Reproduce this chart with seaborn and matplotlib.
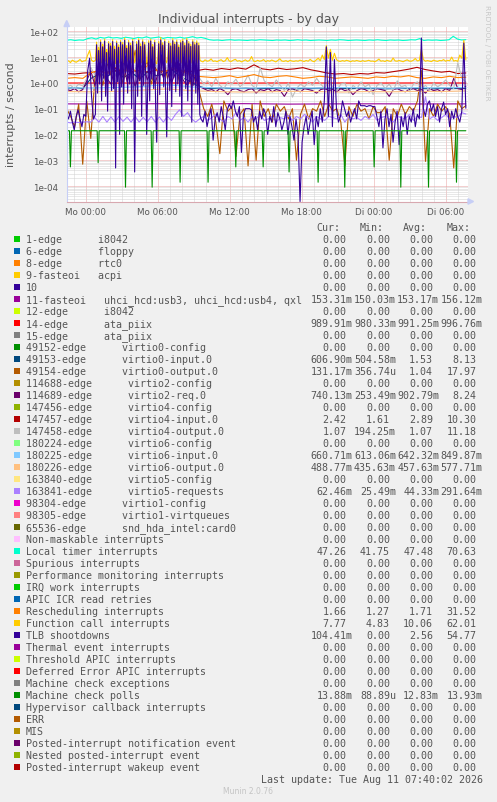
import numpy as np
import pandas as pd
import matplotlib
matplotlib.use("Agg")
import matplotlib.pyplot as plt
import matplotlib.ticker as mticker
from matplotlib.patches import Rectangle, Polygon
import seaborn as sns

W, H = 497, 803

# hours relative to "Mo 00:00", graph runs up to the last update (Di 07:40)
T_START = -1.6
T_END = 31.67
# busy period on Monday morning, sampled finer (5 min) for TLB / function call
PRE = (T_START, 0.8)
BURST = (0.9, 9.5)
POST = (9.6, T_END)
TICK_HOURS = [0, 6, 12, 18, 24, 30]
TICK_LABELS = ["Mo 00:00", "Mo 06:00", "Mo 12:00", "Mo 18:00", "Di 00:00", "Di 06:00"]

# Munin colour cycle (applied in legend order)
MUNIN_COLORS = [
    "#00CC00", "#0066B3", "#FF8000", "#FFCC00", "#330099", "#990099", "#CCFF00",
    "#FF0000", "#808080", "#008F00", "#00487D", "#B35A00", "#B38F00", "#6B006B",
    "#8FB300", "#B30000", "#BEBEBE", "#80FF80", "#80C9FF", "#FFC080", "#FFE680",
    "#AA80FF", "#EE00CC", "#FF8080", "#666600", "#FFBFFF", "#00FFCC", "#CC6699",
    "#999900",
]

LABELS = [
    "1-edge      i8042",
    "6-edge      floppy",
    "8-edge      rtc0",
    "9-fasteoi   acpi",
    "10",
    "11-fasteoi   uhci_hcd:usb3, uhci_hcd:usb4, qxl",
    "12-edge      i8042",
    "14-edge      ata_piix",
    "15-edge      ata_piix",
    "49152-edge      virtio0-config",
    "49153-edge      virtio0-input.0",
    "49154-edge      virtio0-output.0",
    "114688-edge      virtio2-config",
    "114689-edge      virtio2-req.0",
    "147456-edge      virtio4-config",
    "147457-edge      virtio4-input.0",
    "147458-edge      virtio4-output.0",
    "180224-edge      virtio6-config",
    "180225-edge      virtio6-input.0",
    "180226-edge      virtio6-output.0",
    "163840-edge      virtio5-config",
    "163841-edge      virtio5-requests",
    "98304-edge      virtio1-config",
    "98305-edge      virtio1-virtqueues",
    "65536-edge      snd_hda_intel:card0",
    "Non-maskable interrupts",
    "Local timer interrupts",
    "Spurious interrupts",
    "Performance monitoring interrupts",
    "IRQ work interrupts",
    "APIC ICR read retries",
    "Rescheduling interrupts",
    "Function call interrupts",
    "TLB shootdowns",
    "Thermal event interrupts",
    "Threshold APIC interrupts",
    "Deferred Error APIC interrupts",
    "Machine check exceptions",
    "Machine check polls",
    "Hypervisor callback interrupts",
    "ERR",
    "MIS",
    "Posted-interrupt notification event",
    "Nested posted-interrupt event",
    "Posted-interrupt wakeup event",
]

COLUMNS = ["Cur:", "Min:", "Avg:", "Max:"]
CUR = ["0.00", "0.00", "0.00", "0.00", "0.00", "153.31m", "0.00", "989.91m", "0.00", "0.00",
       "606.90m", "131.17m", "0.00", "740.13m", "0.00", "2.42", "1.07", "0.00", "660.71m", "488.77m",
       "0.00", "62.46m", "0.00", "0.00", "0.00", "0.00", "47.26", "0.00", "0.00", "0.00",
       "0.00", "1.66", "7.77", "104.41m", "0.00", "0.00", "0.00", "0.00", "13.88m", "0.00",
       "0.00", "0.00", "0.00", "0.00", "0.00"]
MIN = ["0.00", "0.00", "0.00", "0.00", "0.00", "150.03m", "0.00", "980.33m", "0.00", "0.00",
       "504.58m", "356.74u", "0.00", "253.49m", "0.00", "1.61", "194.25m", "0.00", "613.06m", "435.63m",
       "0.00", "25.49m", "0.00", "0.00", "0.00", "0.00", "41.75", "0.00", "0.00", "0.00",
       "0.00", "1.27", "4.83", "0.00", "0.00", "0.00", "0.00", "0.00", "88.89u", "0.00",
       "0.00", "0.00", "0.00", "0.00", "0.00"]
AVG = ["0.00", "0.00", "0.00", "0.00", "0.00", "153.17m", "0.00", "991.25m", "0.00", "0.00",
       "1.53", "1.04", "0.00", "902.79m", "0.00", "2.89", "1.07", "0.00", "642.32m", "457.63m",
       "0.00", "44.33m", "0.00", "0.00", "0.00", "0.00", "47.48", "0.00", "0.00", "0.00",
       "0.00", "1.71", "10.06", "2.56", "0.00", "0.00", "0.00", "0.00", "12.83m", "0.00",
       "0.00", "0.00", "0.00", "0.00", "0.00"]
MAX = ["0.00", "0.00", "0.00", "0.00", "0.00", "156.12m", "0.00", "996.76m", "0.00", "0.00",
       "8.13", "17.97", "0.00", "8.24", "0.00", "10.30", "11.18", "0.00", "849.87m", "577.71m",
       "0.00", "291.64m", "0.00", "0.00", "0.00", "0.00", "70.63", "0.00", "0.00", "0.00",
       "0.00", "31.52", "62.01", "54.77", "0.00", "0.00", "0.00", "0.00", "13.93m", "0.00",
       "0.00", "0.00", "0.00", "0.00", "0.00"]

# ---- series (interrupts / second), evenly spaced in time ----
fasteoi_11 = [0.153, 0.151, 0.155, 0.152, 0.156, 0.150, 0.153, 0.154, 0.152, 0.153]
edge_14 = [0.99, 0.985, 0.995, 0.99, 0.982, 0.996, 0.99, 0.988, 0.993, 0.99]

virtio0_in = [0.62, 0.65, 0.6, 1.5, 2.2, 1.8, 3.0, 1.6, 2.5, 1.4, 2.8, 1.9, 2.2, 3.1, 1.7, 1.2,
              0.8, 0.62, 0.6, 0.63, 0.61, 0.6, 0.62, 0.59, 0.61, 0.6, 0.63, 0.6, 0.58, 0.61,
              0.6, 0.62, 0.6, 0.59, 0.61, 0.6, 0.62, 0.6, 0.61, 0.59, 0.6, 0.62, 0.6, 0.61,
              0.6, 0.59, 0.62, 0.6, 0.61, 0.607]

virtio0_out = [0.1, 0.05, 0.02, 0.15, 0.0007, 0.2, 0.007,
               1.5, 4, 0.8, 6, 2, 12, 3, 1, 5, 2.5, 18, 1.2, 3, 7, 0.9, 4, 2, 9, 1.5, 3.5,
               6, 1, 2.5, 5, 0.7, 2, 0.4,
               0.1, 0.05, 0.15, 0.03, 0.0018, 0.2, 0.08, 0.12, 0.0014, 0.06, 0.1, 0.0006,
               0.15, 0.001, 0.2, 0.05, 0.1, 0.03, 0.15, 0.08, 0.12, 0.04, 0.1, 0.001, 0.06,
               0.15, 0.04, 0.1, 0.08, 0.2, 0.05, 0.15, 0.08, 0.1, 0.03, 0.0006, 0.12, 0.05,
               0.15, 0.08, 0.1, 0.04, 0.12, 0.07, 0.07, 0.12, 0.001, 0.1, 0.05, 0.15, 0.06,
               0.12, 0.08, 0.2, 3, 0.0009, 0.1, 0.05, 0.15, 0.08, 0.12, 0.06, 0.0005, 0.2,
               0.1, 0.13]

virtio2_req = [0.55, 0.5, 0.6, 0.45, 0.55,
               1.2, 3, 0.8, 2.5, 5, 1.5, 0.9, 4, 2, 8, 1.1, 3.5, 0.7, 2.2, 6, 1.3, 2.8, 0.9,
               4.5, 1.6, 3, 1, 2.4, 5.5, 1.2, 0.8, 2, 1.5, 0.7,
               0.6, 0.5, 0.55, 0.45, 0.6, 0.5, 0.35, 0.55, 0.6, 0.5, 0.45, 0.55, 0.6, 0.4,
               0.55, 0.5, 0.6, 0.45, 0.55, 0.5, 0.3, 0.55, 0.6, 0.5, 0.45, 0.6, 0.55, 0.5,
               0.4, 0.55, 0.6, 0.5, 0.55, 0.45, 0.6, 0.5, 0.55, 0.35, 0.5, 0.6, 0.55, 0.45,
               0.5, 0.6, 0.55, 0.5, 0.3, 0.55, 0.6, 0.5, 0.45, 0.55, 0.6, 0.5, 0.55, 0.4,
               0.6, 0.5, 0.55, 0.45, 0.6, 0.5, 1.5, 0.6, 0.55, 0.74]

virtio4_in = [2.3, 2.2, 2.4, 2.5, 2.8, 2.6, 2.9, 3.2, 2.7, 3.0, 2.6, 3.1, 2.8, 3.3, 2.9, 2.7,
              3.0, 3.4, 3.1, 3.6, 3.3, 3.8, 3.4, 5.0, 3.5, 3.2, 3.7, 3.3, 3.5, 3.9, 3.2, 2.8,
              2.4, 2.2, 2.3, 2.1, 2.3, 2.2, 2.5, 2.4, 2.7, 3.0, 3.4, 4.0, 3.3, 2.9, 2.6, 2.8,
              2.3, 2.42]

virtio4_out = [0.7, 0.8, 0.6, 0.9, 0.75,
               1.5, 4, 2, 6, 1.2, 8, 3, 1.8, 5, 2.5, 11, 1.5, 3.5, 7, 2, 4.5, 1.3, 6, 2.2, 9,
               3, 1.6, 5, 2.8, 1.4, 7, 2, 3.5, 1.5,
               0.9, 1.2, 0.7, 1.5, 0.8, 0.6, 1.1, 0.9, 1.4, 0.7, 1.0, 2.0, 0.8, 0.6, 4.0,
               1.2, 0.9, 0.7, 1.3, 0.8, 0.5, 1.0, 0.28, 0.6, 0.9, 0.7, 1.1, 0.8, 1.5, 0.9,
               0.6, 1.2, 0.7, 0.5, 0.9, 1.0, 0.4, 0.8, 0.6, 1.1, 0.7, 0.9, 0.35, 0.8, 1.0,
               0.6, 0.9, 0.5, 1.2, 0.7, 0.8, 0.45, 0.9, 1.1, 0.6, 0.8, 0.5, 1.0, 0.7, 0.9,
               1.3, 0.8, 0.6, 6.0, 1.5, 1.07]

virtio6_in = [0.64, 0.63, 0.66, 0.72, 0.85, 0.7, 0.64, 0.62, 0.65, 0.64, 0.63, 0.66, 0.64,
              0.62, 0.65, 0.64, 0.66]
virtio6_out = [0.46, 0.45, 0.47, 0.52, 0.58, 0.5, 0.46, 0.44, 0.45, 0.47, 0.46, 0.44, 0.46,
               0.45, 0.47, 0.46, 0.49]

virtio5_req = [0.03, 0.028, 0.03, 0.029, 0.03, 0.031, 0.03, 0.045, 0.03, 0.05, 0.03, 0.048,
               0.03, 0.05, 0.032, 0.047, 0.03, 0.05, 0.03, 0.046, 0.031, 0.05, 0.03, 0.048,
               0.03, 0.05, 0.035, 0.06, 0.09, 0.05, 0.07, 0.04, 0.03, 0.04, 0.05, 0.035,
               0.045, 0.06, 0.04, 0.03, 0.05, 0.04, 0.07, 0.035, 0.045, 0.03, 0.05, 0.04,
               0.06, 0.035, 0.04, 0.05, 0.03, 0.045, 0.04, 0.055, 0.035, 0.05, 0.04, 0.06,
               0.045, 0.03, 0.05, 0.04, 0.035, 0.05, 0.045, 0.04, 0.06, 0.03, 0.05, 0.04,
               0.045, 0.035, 0.05, 0.04, 0.06, 0.035, 0.045, 0.05, 0.04, 0.03, 0.05, 0.045,
               0.04, 0.06, 0.035, 0.05, 0.045, 0.29, 0.04, 0.05, 0.035, 0.045, 0.06, 0.04,
               0.05, 0.045, 0.07, 0.062]

local_timer = [45, 47, 44, 46, 45,
               52, 56, 50, 58, 54, 60, 55, 57, 53, 59, 56, 52, 58, 55, 61, 54, 57, 60, 53,
               58, 56, 55, 59, 54, 57, 62, 55, 58, 53,
               47, 45, 46, 44, 46, 47, 45, 46, 45, 44, 46, 45, 47, 46, 45, 44, 46, 45, 46,
               44, 45, 47, 45, 46, 44, 45, 46, 45, 44, 46, 45, 47, 46, 44, 45, 46, 45, 44,
               46, 45, 47, 45, 44, 46, 45, 46, 44, 45, 47, 46, 52, 44, 46, 45, 46, 44, 45,
               47, 64, 50, 46, 47.3]

resched = [1.5, 1.6, 1.5, 2.5, 3.0, 2.2, 4.0, 2.8, 3.5, 2.4, 5.0, 3.1, 2.6, 3.8, 2.9, 2.2,
           1.8, 1.7, 1.6, 1.7, 1.9, 1.6, 1.8, 2.1, 1.7, 1.6, 1.8, 1.9, 1.7, 1.5, 1.6, 1.8,
           1.7, 1.5, 1.6, 1.7, 1.6, 1.5, 1.7, 1.6, 1.8, 1.7, 1.9, 1.6, 1.5, 1.7, 1.6, 1.8,
           1.6, 1.66]

# function call interrupts: before / during / after the busy period
func_call_pre = [6.5, 7.2, 6.1, 7.6, 6.8, 6.3, 7.0, 8.1, 6.6, 7.1, 7.3, 12, 18, 7.5, 6.7, 7.4]
func_call_burst = [38, 7, 24, 8, 46, 6, 32, 10, 50, 7, 20, 6, 40, 12, 34, 8,
                   48, 7, 26, 5.5, 42, 9, 30, 6, 45, 8, 37, 6, 55, 14, 28, 7,
                   44, 9, 35, 6, 50, 11, 6, 8, 40, 7, 52, 10, 33, 6, 47, 9,
                   37, 13, 6, 7, 43, 6, 50, 10, 31, 8, 45, 6, 5.5, 9, 40, 7,
                   58, 15, 36, 8, 48, 7, 6, 10, 42, 7, 34, 6, 52, 11, 38, 8,
                   46, 9, 30, 7, 44, 6, 50, 12, 35, 8, 54, 6, 40, 10, 32, 6,
                   47, 9, 37, 7, 43, 6, 35, 8]
func_call_post = [7.0, 6.5, 7.8, 6.9, 7.2, 8.5, 6.8, 7.1, 6.6, 7.4,
                  7.9, 6.7, 7.2, 9.5, 7.0, 6.8, 7.6, 8.2, 6.9, 7.3,
                  6.5, 7.1, 7.8, 6.8, 7.4, 10.5, 7.0, 6.7, 7.5, 6.9,
                  7.2, 8.0, 6.6, 7.3, 6.9, 7.7, 7.1, 6.5, 7.4, 8.6,
                  7.0, 6.8, 7.3, 6.6, 7.5, 7.0, 6.8, 7.2, 6.9, 7.6,
                  7.1, 6.7, 7.4, 6.9, 8.2, 7.0, 6.6, 7.8, 9.0, 7.2, 12, 8,
                  28, 9, 20, 7.5, 14, 8, 7.0, 6.8,
                  7.3, 6.9, 7.5, 7.1, 6.6, 7.2, 6.9, 7.4, 7.0, 6.7,
                  7.3, 6.8, 7.1, 7.5, 6.9, 7.0, 6.6, 7.3, 8.4, 6.9,
                  7.2, 6.7, 7.5, 7.0, 6.8, 9.2, 7.1, 6.9, 7.4, 7.0,
                  6.6, 7.3, 7.8, 7.0, 6.9, 7.5, 8.8, 7.1, 7.4, 20,
                  8.0, 6.9, 7.3, 7.0, 6.7, 7.6, 7.1, 6.8, 7.4, 7.2,
                  8.0, 6.9, 7.5, 7.2, 10, 7.0, 7.4, 6.8, 12, 9, 45, 7.77]

# TLB shootdowns: before / during / after the busy period
tlb_pre = [0.06, 0.04, 0.08, 0.03, 0.015, 0.05, 0.09, 0.04, 0.02, 0.06, 0.05, 3, 9, 0.3, 0.04, 0.06]
tlb_burst = [30, 0.4, 18, 0.9, 38, 0.2, 25, 1.5, 42, 0.3, 15, 0.08, 33, 2.0, 27, 0.5,
             40, 0.6, 20, 0.0005, 35, 1.1, 24, 0.01, 38, 0.7, 30, 0.15, 45, 2.5, 22, 0.4,
             36, 0.9, 28, 0.1, 41, 1.8, 0.00035, 0.6, 32, 0.3, 44, 1.2, 26, 0.05, 39, 0.8,
             30, 2.2, 0.01, 0.5, 35, 0.2, 42, 1.4, 25, 0.6, 37, 0.09, 0.005, 1.0, 33, 0.35,
             46, 2.8, 29, 0.7, 40, 0.25, 0.008, 1.3, 34, 0.5, 27, 0.12, 43, 1.6, 31, 0.45,
             38, 0.9, 24, 0.3, 36, 0.05, 41, 1.9, 28, 0.6, 45, 0.2, 33, 1.1, 26, 0.03,
             39, 0.8, 30, 0.4, 35, 0.15, 28, 0.06]
tlb_post = [0.04, 0.03, 0.08, 0.02, 0.05, 0.1, 0.006, 0.04, 0.07, 0.03,
            0.12, 0.05, 0.015, 0.09, 0.15, 0.1, 0.2, 0.08, 0.05, 0.12,
            0.002, 0.06, 0.1, 0.1, 0.1, 0.09, 0.03, 0.05, 0.015, 0.08,
            0.04, 0.1, 0.06, 0.01, 0.05, 0.03, 0.12, 0.02, 0.07, 0.04,
            0.015, 0.03, 0.08, 0.01, 0.05, 0.02, 0.006, 0.04, 0.01, 2.5e-5,
            0.005, 0.02, 0.05, 0.01, 0.03, 0.08, 0.004, 0.05, 0.02, 0.1,
            0.03, 0.2, 25, 0.05, 15, 0.02, 8, 0.1, 0.03, 0.05,
            0.2, 0.1, 0.05, 0.08, 0.03, 0.06, 0.1, 0.04, 0.2, 0.13,
            0.13, 0.13, 0.12, 0.13, 0.13, 0.12,
            0.12, 0.05, 0.02, 0.08, 0.003, 0.04, 0.1, 0.02, 0.06, 0.005,
            0.03, 0.08, 0.004, 0.05, 0.02, 0.07, 0.01, 0.05, 0.03, 0.1,
            0.02, 0.06, 0.04, 55, 0.1, 0.05, 0.15, 0.2, 0.08, 0.15,
            0.05, 0.12, 0.03, 0.1, 0.18, 0.06, 0.1, 0.02, 0.08, 0.04,
            0.1, 0.05, 0.03, 0.08, 35, 0.104]

# machine check polls: flat level with short single-sample dips
MCE_LEVEL = 0.0139
MCE_DIP_HOURS = [-1.28, 1.03, 3.31, 5.53, 7.86, 10.19, 12.5, 14.78, 16.94, 19.36,
                 21.58, 24.03, 26.25, 28.56, 30.89]
MCE_DIP_VALUES = [5.5e-4, 8e-4, 9e-5, 9e-5, 1.4e-4, 1.4e-4, 5.5e-4, 5.5e-4, 3.5e-4, 1.4e-4,
                  9e-5, 5.5e-4, 9e-5, 9e-5, 1.4e-4]

# legend index -> samples (drawn in legend order, like rrdtool)
SERIES = {
    5: fasteoi_11, 7: edge_14, 10: virtio0_in, 11: virtio0_out, 13: virtio2_req,
    15: virtio4_in, 16: virtio4_out, 18: virtio6_in, 19: virtio6_out, 21: virtio5_req,
    26: local_timer, 31: resched,
}
SEGMENTED = {
    32: (func_call_pre, func_call_burst, func_call_post),
    33: (tlb_pre, tlb_burst, tlb_post),
}

frames = []
for idx, vals in SERIES.items():
    frames.append(pd.DataFrame({
        "hour": np.linspace(T_START, T_END, len(vals)),
        "rate": vals,
        "series": LABELS[idx],
    }))
for idx, parts in SEGMENTED.items():
    hours = np.concatenate([np.linspace(a, b, len(p)) for (a, b), p in zip((PRE, BURST, POST), parts)])
    frames.append(pd.DataFrame({"hour": hours, "rate": np.concatenate(parts), "series": LABELS[idx]}))

mce_t, mce_v = [T_START], [MCE_LEVEL]
for t, v in zip(MCE_DIP_HOURS, MCE_DIP_VALUES):
    mce_t += [t - 1 / 12, t, t + 1 / 12]
    mce_v += [MCE_LEVEL, v, MCE_LEVEL]
mce_t.append(T_END)
mce_v.append(MCE_LEVEL)
frames.append(pd.DataFrame({"hour": mce_t, "rate": mce_v, "series": LABELS[38]}))
df = pd.concat(frames, ignore_index=True)

order = [LABELS[i] for i in sorted(list(SERIES) + list(SEGMENTED) + [38])]
palette = {LABELS[i]: MUNIN_COLORS[i % len(MUNIN_COLORS)] for i in range(len(LABELS))}

TXT = "#555555"
MAJ = "#E8A0A0"
MINC = "#D2D2D2"
AXC = "#C6CEF6"

sns.set_style("white")
plt.rcParams["font.family"] = ["DejaVu Sans"]


def fx(px):
    return px / W


def fy(py):
    return 1 - py / H


fig = plt.figure(figsize=(W / 100, H / 100), dpi=100)
fig.patch.set_facecolor("#F0F0F0")

ax = fig.add_axes([fx(66.7), fy(202.5), fx(468) - fx(66.7), fy(27.5) - fy(202.5)])
ax.set_facecolor("white")
ax.set_yscale("log")

sns.lineplot(data=df, x="hour", y="rate", hue="series", hue_order=order,
             palette=palette, estimator=None, legend=False, linewidth=0.8, ax=ax)

ax.set_xlim(-1.59, 31.85)
ax.set_ylim(2.506e-5, 153.5)
ax.set_xlabel("")
ax.set_ylabel("")

ax.xaxis.set_major_locator(mticker.FixedLocator(TICK_HOURS))
ax.xaxis.set_minor_locator(mticker.MultipleLocator(1))
ax.set_xticklabels(TICK_LABELS)
ax.yaxis.set_major_locator(mticker.LogLocator(base=10, numticks=20))
ax.yaxis.set_minor_locator(mticker.LogLocator(base=10, subs=np.arange(2, 10), numticks=20))
ax.yaxis.set_major_formatter(mticker.FuncFormatter(lambda v, p: f"{v:.0e}"))
ax.yaxis.set_minor_formatter(mticker.NullFormatter())

ax.grid(which="minor", color=MINC, linestyle=(0, (1, 1)), linewidth=0.72)
ax.grid(which="major", color=MAJ, linestyle=(0, (1, 1)), linewidth=0.72)
ax.set_axisbelow(True)

ax.tick_params(which="major", direction="inout", length=3, width=0.7, color=MAJ,
               labelsize=6.3, labelcolor=TXT)
ax.tick_params(which="minor", direction="inout", length=3, width=0.7, color=MINC)
ax.tick_params(axis="x", which="major", pad=2.5)
ax.tick_params(axis="y", which="major", pad=4.8)

for s in ["top", "right"]:
    ax.spines[s].set_visible(False)
ax.spines["left"].set_color(AXC)
ax.spines["left"].set_linewidth(0.8)
ax.spines["bottom"].set_color("#D8A8B0")
ax.spines["bottom"].set_linewidth(0.8)

# axis arrows
fig.patches.append(Polygon([(fx(468), fy(199.8)), (fx(468), fy(205.2)), (fx(473.5), fy(202.5))],
                           closed=True, transform=fig.transFigure, color=AXC, figure=fig))
fig.patches.append(Polygon([(fx(64), fy(27.5)), (fx(69.4), fy(27.5)), (fx(66.7), fy(21.5))],
                           closed=True, transform=fig.transFigure, color=AXC, figure=fig))

fig.text(fx(248.5), fy(19.5), "Individual interrupts - by day", ha="center", va="center",
         fontsize=9, color=TXT)
fig.text(fx(11), fy(115), "interrupts / second", rotation=90, ha="center", va="center",
         fontsize=7.9, color=TXT)
fig.text(fx(487), fy(53), "RRDTOOL / TOBI OETIKER", rotation=270, ha="center", va="center",
         fontsize=5.4, color="#C8C8C8")

# ---- legend: monospace rows, 12 px apart ----
MONO_SIZE = 7.2
CHAR_W = MONO_SIZE * 100 / 72 * 0.602  # DejaVu Sans Mono advance, px
MONO = dict(family="DejaVu Sans Mono", fontsize=MONO_SIZE, color=TXT, va="baseline", ha="left")
ROW0, STEP = 240.0, 12.0
HEAD_X = [316.0, 359.5, 403.0, 446.5]      # left edge of the column headers
NUM_RIGHT = [346.5, 390.0, 433.3, 476.7]   # right edge of the numbers in each column

for x, h in zip(HEAD_X, COLUMNS):
    fig.text(fx(x), fy(ROW0 - STEP + 3.3), h, **MONO)

for i, lab in enumerate(LABELS):
    yc = ROW0 + STEP * i
    col = MUNIN_COLORS[i % len(MUNIN_COLORS)]
    fig.patches.append(Rectangle((fx(14), fy(yc + 3)), 6 / W, 6 / H, transform=fig.transFigure,
                                 facecolor=col, edgecolor="none", figure=fig))
    fig.text(fx(26), fy(yc + 3.3), lab, **MONO)
    for xr, s in zip(NUM_RIGHT, (CUR[i], MIN[i], AVG[i], MAX[i])):
        num = s[:-1] if s[-1] in "mu" else s
        fig.text(fx(xr - len(num) * CHAR_W), fy(yc + 3.3), s, **MONO)

yl = ROW0 + STEP * len(LABELS)
fig.text(fx(482.7), fy(yl + 3.3), "Last update: Tue Aug 11 07:40:02 2026",
         **{**MONO, "ha": "right"})
fig.text(fx(248), fy(792), "Munin 2.0.76", ha="center", va="center", fontsize=5.5,
         color="#C4C4C4")

fig.savefig("out.png", dpi=100, facecolor=fig.get_facecolor())
